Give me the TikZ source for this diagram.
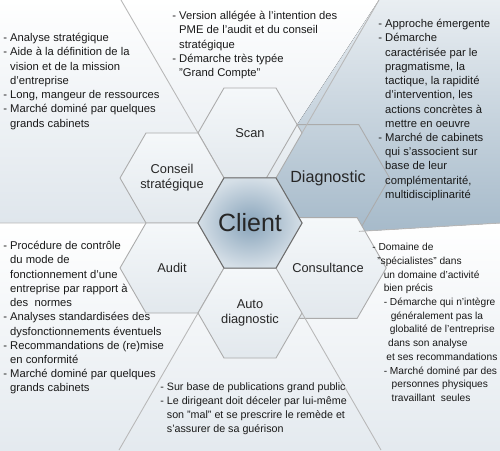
\documentclass[tikz,border=0pt]{standalone}
\usepackage{fontspec}
\setmainfont{Liberation Sans}
\usetikzlibrary{shapes.geometric,backgrounds}

\definecolor{fondbleu}{HTML}{DFE6EC}
\definecolor{hexhaut}{HTML}{F5F8FA}
\definecolor{hexbas}{HTML}{E2E8ED}
\definecolor{bleucoeur}{HTML}{87A3BA}
\definecolor{diagbleu}{HTML}{A6BACA}
\definecolor{bordclair}{HTML}{ABABAB}
\definecolor{bordfonce}{HTML}{6C6C6C}

\newcommand{\retrait}{\phantom{- }}

\begin{document}
\begin{tikzpicture}[x=0.02cm,y=-0.02cm,
    hexbase/.style={regular polygon,regular polygon sides=6,minimum size=2.08cm,
      inner sep=0pt,outer sep=0pt,draw=bordclair,line width=0.5pt,align=center,
      font=\fontsize{7.3}{8.6}\selectfont,text=black!85},
    hexa/.style={hexbase,top color=hexhaut,bottom color=hexbas},
    hexdiag/.style={hexbase,font=\fontsize{9.2}{11}\selectfont},
    coeur/.style={hexbase,draw=bordfonce,line width=0.6pt,inner color=bleucoeur,
      outer color=bleucoeur!35!white,font=\fontsize{14.2}{16}\selectfont},
    ligne/.style={draw=bordclair!85,line width=0.5pt},
    texte/.style={anchor=north west,align=left,inner sep=0pt,
      font=\fontsize{6.4}{8.1}\selectfont,text=black!90},
    serre/.style={texte,font=\fontsize{5.8}{7.8}\selectfont}]
  \useasboundingbox (0,0) rectangle (500,450);

  % ---- alveoles ------------------------------------------------------------
  \node[hexa]    (scan)    at (250,133) {Scan};
  \node[hexa]    (conseil) at (172,178) {Conseil\\stratégique};
  \node[hexdiag] (diag)    at (328,178) {Diagnostic};
  \node[hexa]    (audit)   at (172,268) {Audit};
  \node[hexa]    (consult) at (328,268) {Consultance};
  \node[hexa]    (auto)    at (250,313) {Auto\\diagnostic};
  \node[coeur]   (client)  at (250,223) {Client};

  % ---- separations ---------------------------------------------------------
  \coordinate (hautgauche) at (121,0);
  \coordinate (hautdroite) at (379,0);
  \coordinate (gauche)     at (0,223);
  \coordinate (droite)     at (500,223);
  \coordinate (basgauche)  at (119,450);
  \coordinate (basdroite)  at (381,450);
  \draw[ligne] (scan.180) -- (hautgauche)  (scan.0) -- (hautdroite)
               (conseil.240) -- (gauche)   (diag.300) -- (droite)
               (auto.180) -- (basgauche)   (auto.0) -- (basdroite);

  % ---- fond ----------------------------------------------------------------
  \begin{scope}[on background layer]
    \fill[top color=white,bottom color=fondbleu] (0,0) rectangle (500,223);
    \fill[top color=white,bottom color=fondbleu!85] (0,223) rectangle (500,450);
    \fill[top color=diagbleu!25!white,bottom color=diagbleu]
      (hautdroite) -- (500,0) -- (droite) -- (diag.300) -- (diag.240)
      -- (diag.180) -- (diag.120) -- cycle;
  \end{scope}

  % ---- textes --------------------------------------------------------------
  \node[texte] (txtconseil) at (3,33) {- Analyse stratégique\\
    - Aide à la définition de la\\ \retrait vision et de la mission\\
    \retrait d'entreprise\\ - Long, mangeur de ressources\\
    - Marché dominé par quelques\\ \retrait grands cabinets};
  \node[texte] (txtscan) at (172,11) {- Version allégée à l'intention des\\
    \retrait PME de l'audit et du conseil\\ \retrait stratégique\\
    - Démarche très typée\\ \retrait "Grand Compte"};
  \node[texte] (txtdiag) at (378,19) {- Approche émergente\\ - Démarche\\
    \retrait caractérisée par le\\ \retrait pragmatisme, la\\
    \retrait tactique, la rapidité\\ \retrait d'intervention, les\\
    \retrait actions concrètes à\\ \retrait mettre en oeuvre\\
    - Marché de cabinets\\ \retrait qui s'associent sur\\
    \retrait base de leur\\ \retrait complémentarité,\\
    \retrait multidisciplinarité};
  \node[texte] (txtaudit) at (3,241) {- Procédure de contrôle\\
    \retrait du mode de\\ \retrait fonctionnement d'une\\
    \retrait entreprise par rapport à\\ \retrait des\ \ normes\\
    - Analyses standardisées des\\ \retrait dysfonctionnements éventuels\\
    - Recommandations de (re)mise\\ \retrait en conformité\\
    - Marché dominé par quelques\\ \retrait grands cabinets};
  \node[serre] (txtconsult) at (372,243) {- Domaine de\\
    \hspace*{2.8pt}"spécialistes" dans\\ \hspace*{6.5pt}un domaine d'activité\\
    \hspace*{6.5pt}bien précis\\ \hspace*{6.5pt}- Démarche qui n'intègre\\
    \hspace*{10.5pt}généralement pas la\\ \hspace*{10pt}globalité de l'entreprise\\
    \hspace*{9pt}dans son analyse\\ \hspace*{8pt}et ses recommandations\\
    \hspace*{6.5pt}- Marché dominé par des\\ \hspace*{11pt}personnes physiques\\
    \hspace*{11pt}travaillant\ \ seules};
  \node[texte,font=\fontsize{6.1}{8.1}\selectfont] (txtauto) at (160,382)
    {- Sur base de publications grand public\\
    - Le dirigeant doit déceler par lui-même\\
    \retrait son "mal" et se prescrire le remède et\\
    \retrait s'assurer de sa guérison};
\end{tikzpicture}
\end{document}
